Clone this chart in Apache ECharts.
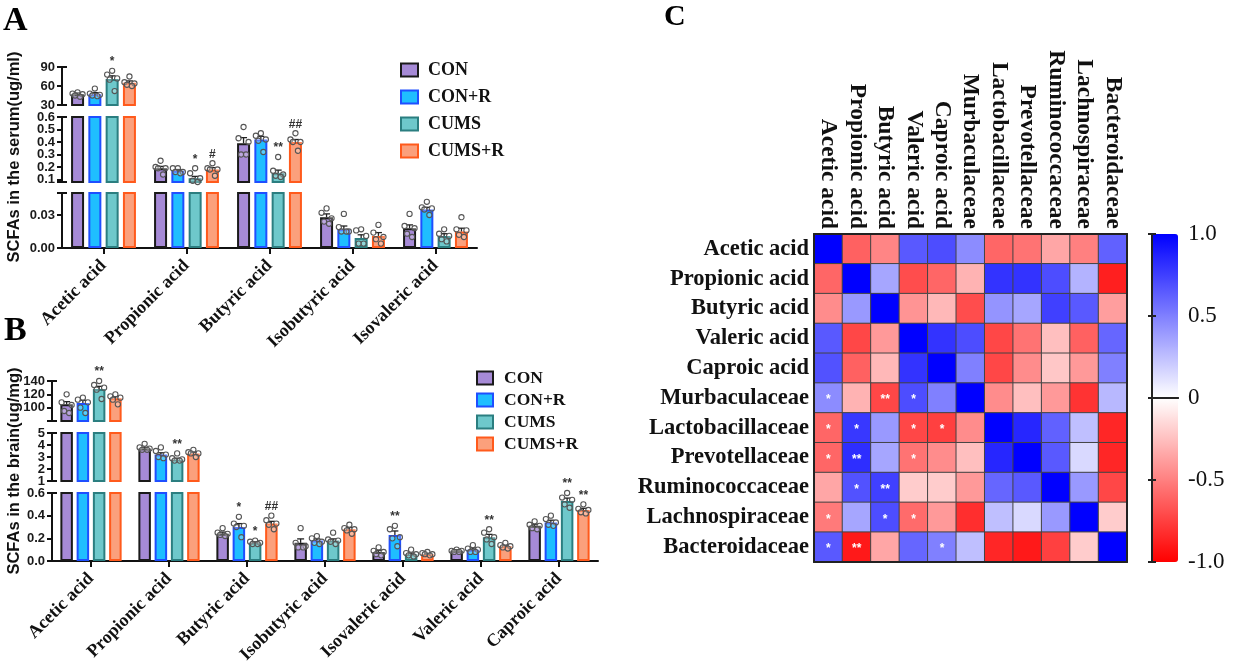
<!DOCTYPE html>
<html><head><meta charset="utf-8">
<script src="https://cdn.jsdelivr.net/npm/echarts@6/dist/echarts.min.js"></script>
<style>html,body{margin:0;padding:0;background:#fff}#c{width:1234px;height:670px}</style>
</head><body><div id="c"></div>
<script>
// ---------- DATA ----------
const groups = ['CON', 'CON+R', 'CUMS', 'CUMS+R'];

// Panel A: serum (ug/ml)
const catsA = ['Acetic acid', 'Propionic acid', 'Butyric acid', 'Isobutyric acid', 'Isovaleric acid'];
const meanA_CON   = [47, 0.19, 0.39, 0.028, 0.018];
const meanA_CONR  = [47, 0.17, 0.42, 0.017, 0.035];
const meanA_CUMS  = [71, 0.11, 0.15, 0.009, 0.011];
const meanA_CUMSR = [65, 0.18, 0.40, 0.011, 0.015];
const semA_CON   = [2, 0.015, 0.045, 0.003, 0.003];
const semA_CONR  = [2.5, 0.01, 0.025, 0.003, 0.002];
const semA_CUMS  = [5, 0.015, 0.025, 0.003, 0.002];
const semA_CUMSR = [3, 0.015, 0.02, 0.003, 0.003];
const dotsA_CON   = [[50,48,47,45,43],[0.25,0.20,0.19,0.19,0.14],[0.52,0.43,0.40,0.30,0.30],[0.036,0.032,0.027,0.024,0.022],[0.031,0.020,0.018,0.013,0.010]];
const dotsA_CONR  = [[56,48,46,45,44],[0.19,0.19,0.16,0.16,0.15],[0.47,0.45,0.42,0.41,0.32],[0.031,0.019,0.015,0.015,0.015],[0.042,0.037,0.036,0.035,0.030]];
const dotsA_CUMS  = [[84,78,72,70,52],[0.19,0.15,0.11,0.09,0.08],[0.28,0.17,0.14,0.13,0.12],[0.017,0.016,0.011,0.004,0.004],[0.017,0.013,0.011,0.008,0.006]];
const dotsA_CUMSR = [[75,66,64,62,60],[0.23,0.19,0.18,0.18,0.13],[0.47,0.42,0.40,0.40,0.33],[0.021,0.014,0.010,0.008,0.004],[0.028,0.017,0.016,0.012,0.010]];
const sigA_CON   = ['', '', '', '', ''];
const sigA_CONR  = ['', '', '', '', ''];
const sigA_CUMS  = ['*', '*', '**', '', ''];
const sigA_CUMSR = ['', '#', '##', '', ''];
const ticksA_top = [30, 60, 90];
const ticksA_mid = [0.1, 0.2, 0.3, 0.4, 0.5, 0.6];
const ticksA_low = [0, 0.03];

// Panel B: brain (ug/mg)
const catsB = ['Acetic acid', 'Propionic acid', 'Butyric acid', 'Isobutyric acid', 'Isovaleric acid', 'Valeric acid', 'Caproic acid'];
const meanB_CON   = [105, 3.7, 0.24, 0.16, 0.08, 0.09, 0.31];
const meanB_CONR  = [107, 3.2, 0.30, 0.18, 0.23, 0.10, 0.34];
const meanB_CUMS  = [128, 2.8, 0.16, 0.18, 0.06, 0.21, 0.53];
const meanB_CUMSR = [114, 3.3, 0.33, 0.28, 0.06, 0.13, 0.45];
const semB_CON   = [4, 0.1, 0.015, 0.035, 0.015, 0.01, 0.015];
const semB_CONR  = [4, 0.15, 0.03, 0.015, 0.035, 0.015, 0.02];
const semB_CUMS  = [4, 0.1, 0.01, 0.015, 0.01, 0.025, 0.025];
const semB_CUMSR = [2.5, 0.1, 0.02, 0.015, 0.005, 0.01, 0.015];
const dotsB_CON   = [[120,108,104,95,92],[4.1,3.8,3.7,3.6,3.6],[0.29,0.25,0.24,0.23,0.22],[0.29,0.16,0.13,0.12,0.12],[0.12,0.09,0.08,0.06,0.05],[0.10,0.09,0.09,0.08,0.08],[0.35,0.32,0.31,0.29,0.28]];
const dotsB_CONR  = [[115,112,108,100,92],[3.8,3.5,3.2,3.0,2.9],[0.39,0.33,0.31,0.30,0.21],[0.22,0.20,0.17,0.16,0.15],[0.31,0.28,0.21,0.20,0.13],[0.14,0.11,0.10,0.08,0.08],[0.40,0.37,0.34,0.32,0.31]];
const dotsB_CUMS  = [[140,134,130,127,113],[3.3,2.9,2.8,2.7,2.7],[0.18,0.17,0.16,0.15,0.15],[0.25,0.19,0.18,0.17,0.15],[0.10,0.07,0.06,0.05,0.04],[0.28,0.25,0.21,0.19,0.15],[0.60,0.56,0.54,0.50,0.47]];
const dotsB_CUMSR = [[120,117,115,112,105],[3.6,3.4,3.3,3.3,3.0],[0.40,0.36,0.33,0.32,0.28],[0.32,0.29,0.28,0.27,0.24],[0.08,0.07,0.06,0.06,0.05],[0.16,0.14,0.13,0.12,0.11],[0.50,0.46,0.45,0.43,0.42]];
const sigB_CON   = ['', '', '', '', '', '', ''];
const sigB_CONR  = ['', '', '*', '', '**', '', ''];
const sigB_CUMS  = ['**', '**', '*', '', '', '**', '**'];
const sigB_CUMSR = ['', '', '##', '', '', '', '**'];
const ticksB_top = [100, 120, 140];
const ticksB_mid = [1, 2, 3, 4, 5];
const ticksB_low = [0, 0.2, 0.4, 0.6];

// Panel C: correlation heatmap
const corrLabels = ['Acetic acid', 'Propionic acid', 'Butyric acid', 'Valeric acid', 'Caproic acid', 'Murbaculaceae',
  'Lactobacillaceae', 'Prevotellaceae', 'Ruminococcaceae', 'Lachnospiraceae', 'Bacteroidaceae'];
const corrRows = [
  [1, -0.62, -0.48, 0.65, 0.7, 0.45, -0.6, -0.55, -0.35, -0.5, 0.62],
  [-0.6, 1, 0.35, -0.7, -0.6, -0.3, 0.8, 0.8, 0.7, 0.3, -0.88],
  [-0.45, 0.4, 1, -0.42, -0.28, -0.7, 0.42, 0.35, 0.75, 0.65, -0.38],
  [0.65, -0.72, -0.4, 1, 0.8, 0.7, -0.72, -0.55, -0.25, -0.62, 0.6],
  [0.68, -0.62, -0.28, 0.8, 1, 0.5, -0.72, -0.45, -0.22, -0.4, 0.5],
  [0.45, -0.3, -0.72, 0.7, 0.5, 1, -0.45, -0.25, -0.4, -0.8, 0.28],
  [-0.6, 0.78, 0.4, -0.72, -0.75, -0.45, 1, 0.85, 0.62, 0.25, -0.85],
  [-0.6, 0.82, 0.35, -0.55, -0.45, -0.25, 0.85, 1, 0.65, 0.15, -0.85],
  [-0.35, 0.68, 0.75, -0.2, -0.2, -0.4, 0.6, 0.65, 1, 0.4, -0.72],
  [-0.52, 0.35, 0.7, -0.58, -0.4, -0.82, 0.25, 0.15, 0.4, 1, -0.2],
  [0.65, -0.9, -0.35, 0.6, 0.5, 0.25, -0.85, -0.9, -0.75, -0.2, 1]
];
const corrSig = [ // [row, col, mark]
  [5,0,'*'],[5,2,'**'],[5,3,'*'],
  [6,0,'*'],[6,1,'*'],[6,3,'*'],[6,4,'*'],
  [7,0,'*'],[7,1,'**'],[7,3,'*'],
  [8,1,'*'],[8,2,'**'],
  [9,0,'*'],[9,2,'*'],[9,3,'*'],
  [10,0,'*'],[10,1,'**'],[10,4,'*']
];
const colorTicks = [-1, -0.5, 0, 0.5, 1];

// ---------- STYLE ----------
const SERIF = '"Liberation Serif","Times New Roman",serif';
const SANS = '"Liberation Sans",Arial,sans-serif';
const fills = ['#A68AD6', '#1FBEFF', '#6EC8CB', '#FBA07C'];
const strokes = ['#1A1A1A', '#1F4FFF', '#2B7E80', '#FF5A1C'];
const JIT = [0, -5, 5, -2.5, 2.5];

const option = {
  animation: false,
  backgroundColor: '#fff',
  grid: [], xAxis: [], yAxis: [], series: [], legend: [], graphic: [], visualMap: []
};

function addPanel(p) {
  const segs = p.segs;
  segs.forEach((s, k) => {
    const gi = option.grid.length;
    option.grid.push({left: p.left, width: p.width, top: s.top, height: s.height});
    const isBottom = k === segs.length - 1;
    const xi = option.xAxis.length;
    option.xAxis.push({
      type: 'category', gridIndex: gi, data: p.cats, show: isBottom,
      axisLine: {show: true, lineStyle: {color: '#111', width: 2}},
      axisTick: {show: true, alignWithLabel: true, length: 6, lineStyle: {color: '#111', width: 2}},
      axisLabel: {rotate: 45, interval: 0, margin: 15, fontFamily: SERIF, fontWeight: 'bold',
        fontSize: p.xFont, color: '#111'}
    });
    const labelStyle = {margin: 7, formatter: v => v.toFixed(s.dec),
      showMinLabel: true, showMaxLabel: true, hideOverlap: false,
      fontFamily: SANS, fontWeight: 'bold', fontSize: p.yFont, color: '#1a1a1a'};
    // split tick labels over two stacked axes so neighbouring labels never collide
    const evenTicks = s.ticks.filter((t, i) => i % 2 === 0);
    const oddTicks = s.ticks.filter((t, i) => i % 2 === 1);
    const yi = option.yAxis.length;
    option.yAxis.push({
      type: 'value', gridIndex: gi, min: s.min, max: s.max, position: 'left',
      splitLine: {show: false},
      axisLine: {show: true, lineStyle: {color: '#111', width: 2}},
      axisTick: {show: true, length: 5, customValues: s.ticks.concat([s.min, s.max]),
        lineStyle: {color: '#111', width: 2}},
      axisLabel: Object.assign({customValues: evenTicks}, labelStyle)
    });
    option.yAxis.push({
      type: 'value', gridIndex: gi, min: s.min, max: s.max, position: 'left',
      splitLine: {show: false}, axisLine: {show: false},
      axisLabel: Object.assign({customValues: oddTicks, show: oddTicks.length > 0}, labelStyle),
      axisTick: {show: true, inside: true, length: 5, customValues: [s.min, s.max],
        lineStyle: {color: '#111', width: 2}}
    });
    p.groups.forEach((g, gIdx) => {
      option.series.push({
        type: 'bar', name: groups[gIdx], xAxisIndex: xi, yAxisIndex: yi, data: g.mean,
        barWidth: p.barWidth, barGap: p.barGap, clip: true, silent: true,
        itemStyle: {color: fills[gIdx], borderColor: strokes[gIdx], borderWidth: 2},
        emphasis: {disabled: true}
      });
    });
    const items = [];
    p.cats.forEach((c, ci) => groups.forEach((g, gIdx) => items.push([ci, gIdx])));
    option.series.push({
      type: 'custom', xAxisIndex: xi, yAxisIndex: yi, data: items, silent: true, z: 5,
      encode: {x: 0, y: 1},
      renderItem: (params, api) => {
        const c = api.value(0), gIdx = api.value(1);
        const g = p.groups[gIdx];
        const cx = api.coord([c, s.min])[0] + (gIdx - 1.5) * p.spacing;
        const inSeg = v => v >= s.min && v <= s.max;
        const ch = [];
        const m = g.mean[c], e = g.sem[c];
        if (inSeg(m)) {
          const y0 = api.coord([c, m])[1];
          const y1 = api.coord([c, Math.min(m + e, s.max)])[1];
          ch.push({type: 'line', shape: {x1: cx, y1: y0, x2: cx, y2: y1}, style: {stroke: '#222', lineWidth: 1.3}});
          ch.push({type: 'line', shape: {x1: cx - 3.5, y1: y1, x2: cx + 3.5, y2: y1}, style: {stroke: '#222', lineWidth: 1.3}});
        }
        g.dots[c].forEach((v, k) => {
          if (inSeg(v)) {
            const y = api.coord([c, v])[1];
            ch.push({type: 'circle', shape: {cx: cx + JIT[k], cy: y, r: 2.6},
              style: {fill: 'rgba(255,255,255,0.25)', stroke: '#555', lineWidth: 1.1}});
          }
        });
        const mark = g.sig[c];
        if (mark) {
          const top = Math.max(Math.max.apply(null, g.dots[c]), m + e);
          if (inSeg(top)) {
            ch.push({type: 'text', style: {text: mark, x: cx, y: api.coord([c, top])[1] - 3,
              textAlign: 'center', textVerticalAlign: 'bottom',
              font: 'bold 12px ' + SANS, fill: '#333'}});
          }
        }
        return {type: 'group', children: ch};
      }
    });
  });
}

addPanel({
  cats: catsA, left: 62, width: 415, barWidth: 13, barGap: '33%', spacing: 17.3, xFont: 18, yFont: 13,
  groups: [
    {mean: meanA_CON, sem: semA_CON, dots: dotsA_CON, sig: sigA_CON},
    {mean: meanA_CONR, sem: semA_CONR, dots: dotsA_CONR, sig: sigA_CONR},
    {mean: meanA_CUMS, sem: semA_CUMS, dots: dotsA_CUMS, sig: sigA_CUMS},
    {mean: meanA_CUMSR, sem: semA_CUMSR, dots: dotsA_CUMSR, sig: sigA_CUMSR}
  ],
  segs: [
    {min: 30, max: 90, top: 67, height: 38, ticks: ticksA_top, dec: 0},
    {min: 0.08, max: 0.6, top: 117, height: 65, ticks: ticksA_mid, dec: 1},
    {min: 0, max: 0.05, top: 193, height: 55, ticks: ticksA_low, dec: 2}
  ]
});

addPanel({
  cats: catsB, left: 52, width: 546, barWidth: 12.5, barGap: '30%', spacing: 16.25, xFont: 18, yFont: 13,
  groups: [
    {mean: meanB_CON, sem: semB_CON, dots: dotsB_CON, sig: sigB_CON},
    {mean: meanB_CONR, sem: semB_CONR, dots: dotsB_CONR, sig: sigB_CONR},
    {mean: meanB_CUMS, sem: semB_CUMS, dots: dotsB_CUMS, sig: sigB_CUMS},
    {mean: meanB_CUMSR, sem: semB_CUMSR, dots: dotsB_CUMSR, sig: sigB_CUMSR}
  ],
  segs: [
    {min: 80, max: 140, top: 381, height: 40, ticks: ticksB_top, dec: 0},
    {min: 1, max: 5, top: 433, height: 48, ticks: ticksB_mid, dec: 0},
    {min: 0, max: 0.6, top: 493, height: 68, ticks: ticksB_low, dec: 1}
  ]
});

// Legends
option.legend.push({
  data: groups, orient: 'vertical', left: 400, top: 61, padding: 0, itemWidth: 17, itemHeight: 13, itemGap: 9,
  icon: 'rect', selectedMode: false,
  textStyle: {fontFamily: SERIF, fontWeight: 'bold', fontSize: 18, color: '#111', padding: [0, 0, 0, 5]}
});
option.legend.push({
  data: groups, orient: 'vertical', left: 476, top: 369, padding: 0, itemWidth: 16, itemHeight: 13, itemGap: 4,
  icon: 'rect', selectedMode: false,
  textStyle: {fontFamily: SERIF, fontWeight: 'bold', fontSize: 17.5, color: '#111', padding: [0, 0, 0, 6]}
});

// Heatmap
const hg = option.grid.length;
option.grid.push({left: 814, top: 234, width: 313, height: 328});
const hx = option.xAxis.length;
option.xAxis.push({
  type: 'category', gridIndex: hg, data: corrLabels, position: 'top', z: 10,
  axisLine: {show: true, lineStyle: {color: '#222', width: 2}}, axisTick: {show: false},
  axisLabel: {rotate: 90, interval: 0, margin: 5, fontFamily: SERIF, fontWeight: 'bold', fontSize: 23.5, color: '#111'},
  splitLine: {show: false}
});
option.xAxis.push({
  type: 'category', gridIndex: hg, data: corrLabels, position: 'bottom', z: 10,
  axisLine: {show: true, lineStyle: {color: '#222', width: 2}}, axisTick: {show: false}, axisLabel: {show: false}
});
const hy = option.yAxis.length;
option.yAxis.push({
  type: 'category', gridIndex: hg, data: corrLabels, inverse: true, position: 'left', z: 10,
  axisLine: {show: true, lineStyle: {color: '#222', width: 2}}, axisTick: {show: false},
  axisLabel: {interval: 0, margin: 5, fontFamily: SERIF, fontWeight: 'bold', fontSize: 22.5, color: '#111'}
});
option.yAxis.push({
  type: 'category', gridIndex: hg, data: corrLabels, inverse: true, position: 'right', z: 10,
  axisLine: {show: true, lineStyle: {color: '#222', width: 2}}, axisTick: {show: false}, axisLabel: {show: false}
});
const heatData = [];
corrRows.forEach((row, i) => row.forEach((v, j) => heatData.push([j, i, v])));
const sigLookup = {};
corrSig.forEach(([r, c, m]) => { sigLookup[r + ',' + c] = m; });
const heatIdx = option.series.length;
option.series.push({
  type: 'heatmap', xAxisIndex: hx, yAxisIndex: hy, data: heatData, silent: true,
  itemStyle: {borderColor: '#444', borderWidth: 1},
  label: {show: true, formatter: q => sigLookup[q.value[1] + ',' + q.value[0]] || '',
    color: '#fff', fontSize: 12, fontWeight: 'bold', fontFamily: SANS, offset: [0, 2]},
  emphasis: {disabled: true}
});
option.visualMap.push({
  type: 'continuous', seriesIndex: heatIdx, min: -1, max: 1, orient: 'vertical',
  left: 1152, top: 234, itemWidth: 26, itemHeight: 328, calculable: false, padding: 0,
  hoverLink: false, inRange: {color: ['#FF0000', '#FFFFFF', '#0000FF']}
});
// Colour bar frame and scale
const cg = option.grid.length;
option.grid.push({left: 1152, top: 234, width: 26, height: 328});
option.xAxis.push({type: 'value', gridIndex: cg, min: 0, max: 1, position: 'top', z: 10,
  axisLine: {show: true, lineStyle: {color: '#222', width: 2}}, axisTick: {show: false}, axisLabel: {show: false}, splitLine: {show: false}});
option.xAxis.push({type: 'value', gridIndex: cg, min: 0, max: 1, position: 'bottom', z: 10,
  axisLine: {show: true, lineStyle: {color: '#222', width: 2}}, axisTick: {show: false}, axisLabel: {show: false}, splitLine: {show: false}});
option.yAxis.push({type: 'value', gridIndex: cg, min: -1, max: 1, position: 'left', z: 10,
  axisLine: {show: true, lineStyle: {color: '#222', width: 2}},
  axisTick: {show: true, length: 4, customValues: colorTicks, lineStyle: {color: '#222', width: 2}},
  axisLabel: {show: false}, splitLine: {show: false}});
option.yAxis.push({type: 'value', gridIndex: cg, min: -1, max: 1, position: 'right', z: 10,
  axisLine: {show: true, lineStyle: {color: '#222', width: 2}},
  axisTick: {show: true, length: 4, customValues: colorTicks, lineStyle: {color: '#222', width: 2}},
  axisLabel: {customValues: colorTicks, margin: 10, formatter: v => v === 0 ? '0' : v.toFixed(1),
    showMinLabel: true, showMaxLabel: true, fontFamily: SERIF, fontSize: 23, color: '#111'},
  splitLine: {show: false}});

// Panel letters and axis titles
option.graphic.push(
  {type: 'text', left: 3, top: 4, style: {text: 'A', font: 'bold 34px ' + SERIF, fill: '#000'}},
  {type: 'text', left: 4, top: 314, style: {text: 'B', font: 'bold 34px ' + SERIF, fill: '#000'}},
  {type: 'text', left: 664, top: 2, style: {text: 'C', font: 'bold 30px ' + SERIF, fill: '#000'}},
  {type: 'text', x: 14, y: 157, rotation: Math.PI / 2,
    style: {text: 'SCFAs in the serum(ug/ml)', font: 'bold 16.5px ' + SANS, fill: '#111', textAlign: 'center', textVerticalAlign: 'middle'}},
  {type: 'text', x: 14, y: 471, rotation: Math.PI / 2,
    style: {text: 'SCFAs in the brain(ug/mg)', font: 'bold 16.5px ' + SANS, fill: '#111', textAlign: 'center', textVerticalAlign: 'middle'}}
);

const chart = echarts.init(document.getElementById('c'), null, {renderer: 'canvas'});
chart.setOption(option);
</script>
</body></html>
